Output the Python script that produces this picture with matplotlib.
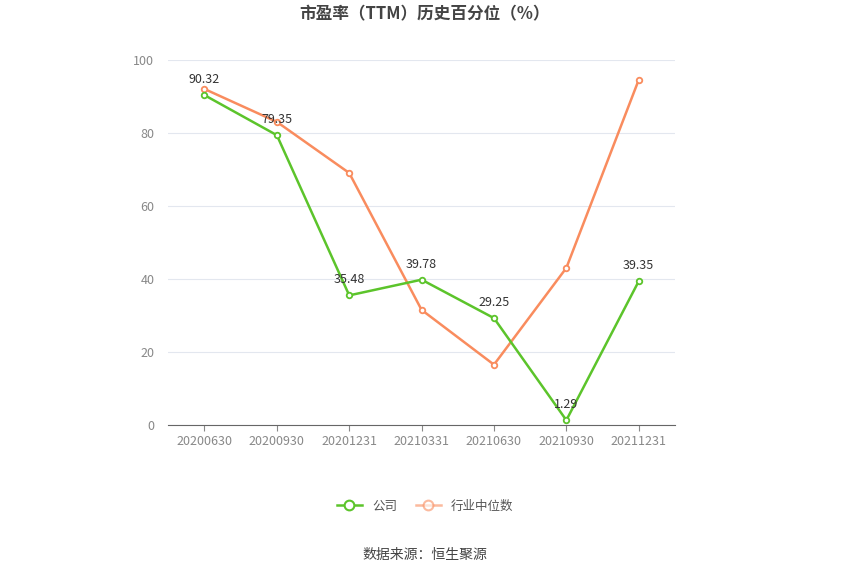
import matplotlib.pyplot as plt

plt.rcParams['font.family'] = ['Noto Sans CJK SC', 'DejaVu Sans']

dates = ['20200630', '20200930', '20201231', '20210331', '20210630', '20210930', '20211231']
company = [90.32, 79.35, 35.48, 39.78, 29.25, 1.29, 39.35]
industry = [92.0, 83.0, 69.0, 31.5, 16.5, 43.0, 94.5]

green = '#5cc42b'
orange = '#f98c5e'

fig = plt.figure(figsize=(8.5, 5.75), dpi=100)
ax = fig.add_axes([0.198, 0.261, 0.596, 0.635])

x = range(len(dates))
ax.plot(x, company, color=green, lw=1.8, marker='o', ms=4, mfc='white', mew=1.3, zorder=3)
ax.plot(x, industry, color=orange, lw=1.8, marker='o', ms=4, mfc='white', mew=1.3, zorder=2)
for i, v in enumerate(company):
    ax.text(i, v + 2.5, f'{v:.2f}', ha='center', va='bottom', fontsize=9, color='#333333')

ax.set_xlim(-0.5, len(dates) - 0.5)
ax.set_ylim(0, 100)
ax.set_yticks(range(0, 101, 20))
ax.set_xticks(list(x))
ax.set_xticklabels(dates)
ax.grid(axis='y', color='#e3e7ef', lw=0.8)
ax.set_axisbelow(True)
for s in ['top', 'right', 'left']:
    ax.spines[s].set_visible(False)
ax.spines['bottom'].set_color('#666666')
ax.tick_params(axis='y', length=0, colors='#888888', labelsize=9, pad=10)
ax.tick_params(axis='x', colors='#888888', labelsize=9, length=4)

fig.text(0.5, 0.975, '市盈率（TTM）历史百分位（%）', ha='center', va='center',
         fontsize=12, fontweight='bold', color='#444444')

l1, = ax.plot([], [], color=green, lw=1.8, marker='o', ms=7, mfc='white', mew=1.5)
l2, = ax.plot([], [], color=orange, lw=1.8, marker='o', ms=7, mfc='white', mew=1.5, alpha=0.6)
fig.legend([l1, l2], ['公司', '行业中位数'], loc='center', bbox_to_anchor=(0.5, 0.12),
           ncol=2, frameon=False, fontsize=9, labelcolor='#555555', handlelength=2, columnspacing=1.5)

fig.text(0.5, 0.035, '数据来源：恒生聚源', ha='center', va='center', fontsize=10, color='#444444')

fig.savefig('out.png', dpi=100)
